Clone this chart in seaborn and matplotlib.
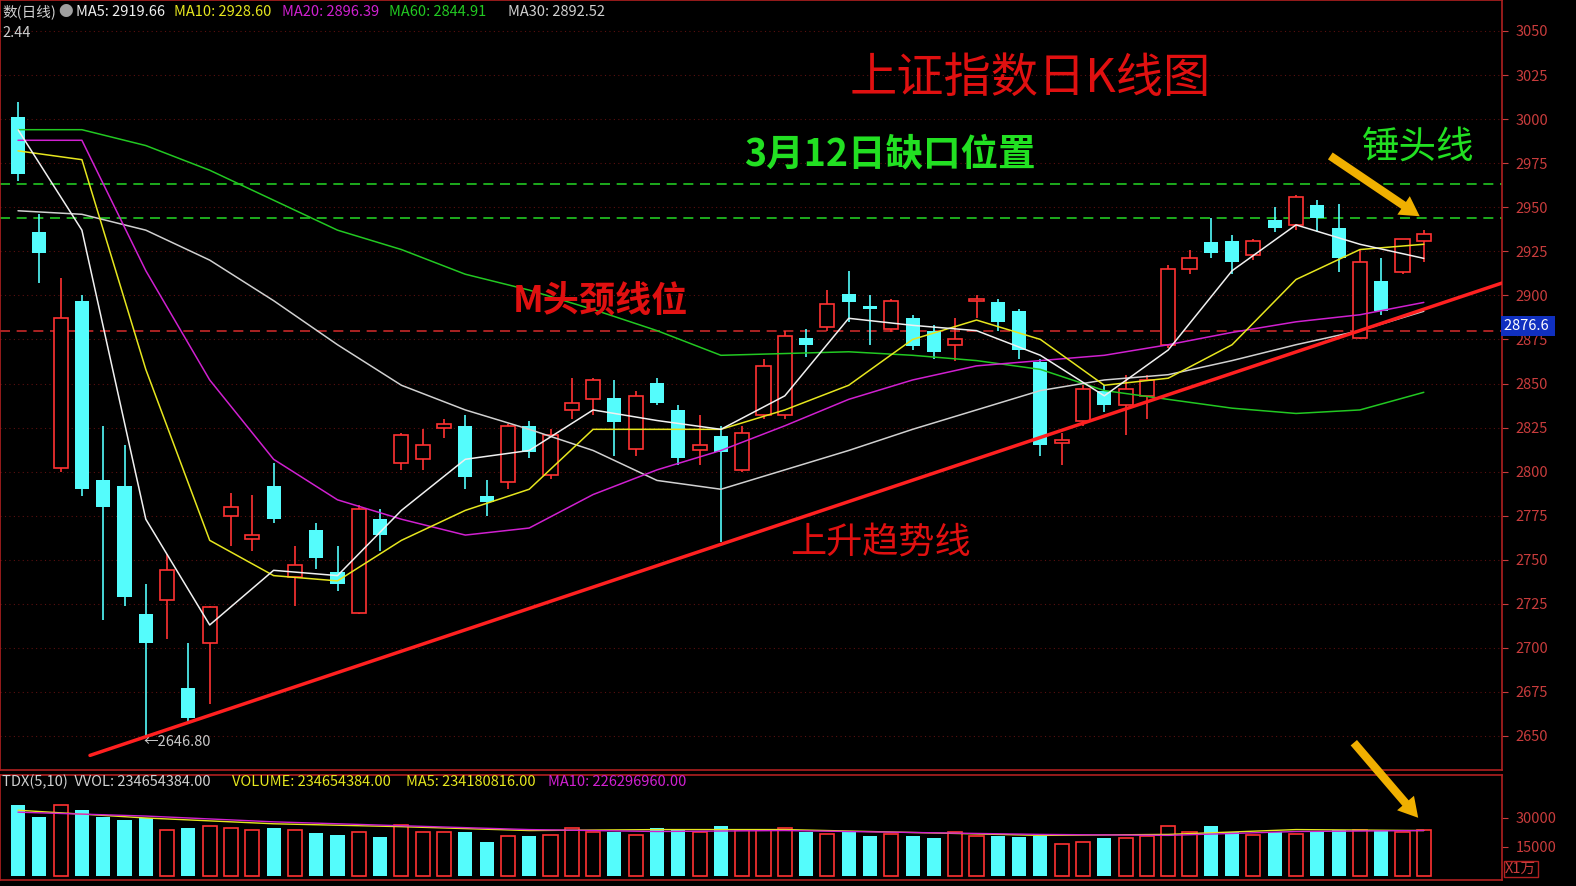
import matplotlib
matplotlib.use("Agg")
import matplotlib.pyplot as plt
import seaborn as sns
import numpy as np

sns.set_style("dark")
plt.rcParams['font.family'] = ['Noto Sans CJK SC', 'DejaVu Sans']

opens  = [3001,2936,2802,2897,2795,2792,2719,2727,2677,2703,2775,2762,2792,2740,2767,2743,2720,2773,2805,2807,2825,2826,2786,2794,2826,2798,2835,2841,2842,2813,2850,2835,2812,2820,2801,2832,2832,2876,2882,2901,2894,2881,2887,2880,2872,2897,2896,2891,2862,2816,2829,2846,2838,2843,2872,2915,2930,2931,2923,2943,2940,2951,2938,2876,2908,2913,2931]
closes = [2969,2924,2887,2790,2780,2729,2703,2744,2660,2723,2780,2764,2773,2747,2751,2736,2779,2764,2821,2815,2827,2797,2783,2826,2811,2821,2839,2852,2828,2843,2839,2808,2815,2811,2822,2860,2877,2872,2895,2896,2892,2897,2871,2868,2875,2898,2885,2869,2815,2818,2847,2838,2847,2852,2915,2921,2924,2919,2931,2938,2956,2944,2921,2919,2891,2932,2935]
highs  = [3010,2946,2910,2900,2826,2815,2736,2753,2703,2724,2788,2787,2805,2758,2771,2758,2781,2779,2822,2824,2830,2832,2795,2827,2829,2824,2853,2853,2852,2846,2853,2838,2832,2826,2826,2864,2880,2881,2903,2914,2900,2898,2889,2883,2887,2900,2898,2892,2864,2822,2849,2849,2855,2855,2917,2926,2944,2934,2932,2950,2957,2954,2952,2926,2921,2932,2937]
lows   = [2965,2907,2800,2786,2716,2724,2649,2705,2658,2668,2758,2755,2771,2724,2745,2732,2719,2755,2801,2801,2819,2790,2775,2790,2808,2796,2830,2832,2809,2809,2838,2804,2804,2760,2800,2830,2830,2865,2880,2885,2872,2879,2869,2864,2863,2887,2880,2864,2809,2804,2826,2834,2821,2830,2870,2912,2921,2912,2920,2936,2937,2936,2913,2875,2889,2912,2919]
volumes = [36700,30500,36700,34100,30500,29000,30000,23800,24800,25900,24800,23800,24800,23800,22200,21200,22700,20200,26400,22700,22700,22700,17600,20700,20700,21200,24800,22700,22700,21200,24800,23800,22700,25900,23800,23800,24800,22700,21700,22700,20700,21700,20700,19600,22700,20700,20700,20200,20700,16500,17600,19600,19600,20700,25900,22700,25900,22700,21200,22700,21700,22700,23800,23800,23800,22700,23800]

ma_idx = list(range(0, 67, 3))
ma5  = [2994,2937,2773,2713,2744,2741,2778,2807,2812,2835,2829,2824,2843,2887,2883,2880,2866,2843,2869,2914,2940,2929,2921]
ma10 = [2982,2977,2858,2761,2741,2738,2761,2778,2790,2824,2824,2824,2835,2849,2875,2886,2875,2849,2853,2872,2909,2926,2929]
ma20 = [2988,2988,2914,2852,2807,2784,2773,2764,2768,2787,2801,2812,2826,2841,2852,2860,2863,2866,2872,2879,2885,2889,2896]
ma30 = [2948,2946,2937,2920,2897,2872,2849,2835,2824,2812,2795,2790,2801,2812,2824,2835,2846,2852,2855,2863,2872,2880,2891]
ma60 = [2994,2994,2985,2971,2954,2937,2926,2912,2903,2892,2880,2866,2867,2868,2866,2863,2858,2846,2841,2836,2833,2835,2845]
price_ticks = [2650,2675,2700,2725,2750,2775,2800,2825,2850,2875,2900,2925,2950,2975,3000,3025,3050]
vol_ticks = [15000, 30000]
vma_idx = [0, 6, 12, 18, 24, 30, 36, 42, 48, 54, 60, 66]
vma5 = [34000, 30000, 27000, 25500, 23500, 24000, 24000, 22500, 21000, 21500, 24000, 23500]
vma10 = [33000, 31000, 28000, 26000, 24000, 23000, 23500, 22500, 21500, 21000, 23000, 23500]

RED = '#ff3232'; CYAN = '#54fcfc'; TICK = '#c83c3c'
W, H = 1576, 886
fig = plt.figure(figsize=(15.76, 8.86), dpi=100, facecolor='black')
ax = fig.add_axes([0, 1-770/H, 1502/W, 770/H])
axv = fig.add_axes([0, 1-880/H, 1502/W, 105/H])
for a in (ax, axv):
    a.set_facecolor('black')
    for s in a.spines.values():
        s.set_color('#b02020'); s.set_linewidth(1.2)
    a.yaxis.tick_right()
    a.tick_params(axis='y', colors=TICK, labelsize=10.5, length=4, direction='out', pad=6)
    a.tick_params(axis='x', length=0, labelbottom=False)
    a.grid(False)

n = len(opens)
xl = (-18/21.3, (1502-18)/21.3)
ax.set_xlim(*xl); axv.set_xlim(*xl)
ax.set_ylim(3050-739/1.7625, 3050+31/1.7625)
ax.set_yticks(price_ticks)
for t in price_ticks:
    ax.axhline(t, color='#5a1010', lw=0.8, ls=(0, (1, 3)), zorder=0)

bw = 0.66
for i in range(n):
    o, c, h, l = opens[i], closes[i], highs[i], lows[i]
    top, bot = max(o, c), min(o, c)
    if c >= o:
        ax.vlines(i, top, h, color=RED, lw=1.2, zorder=2)
        ax.vlines(i, l, bot, color=RED, lw=1.2, zorder=2)
        ax.bar(i, max(top-bot, 0.6), bottom=bot, width=bw, facecolor='black', edgecolor=RED, lw=1.2, zorder=3)
    else:
        ax.vlines(i, l, h, color=CYAN, lw=1.2, zorder=2)
        ax.bar(i, max(top-bot, 0.6), bottom=bot, width=bw, color=CYAN, lw=0, zorder=3)

for vals, col in [(ma60, '#22c822'), (ma30, '#d0d0d0'), (ma20, '#d020d0'), (ma10, '#e6e61e'), (ma5, '#f0f0f0')]:
    sns.lineplot(x=ma_idx, y=vals, ax=ax, color=col, lw=1.1, zorder=4)

ax.axhline(2963, color='#22c822', ls=(0, (6, 4)), lw=1.2, zorder=1)
ax.axhline(2944, color='#22c822', ls=(0, (6, 4)), lw=1.2, zorder=1)
ax.axhline(2880, color='#c82828', ls=(0, (6, 4)), lw=1.2, zorder=1)
ax.plot([3.38, xl[1]], [2639, 2907], color='#ff2020', lw=2.5, zorder=5)

ax.text((1030-18)/21.3, 3023, '上证指数日K线图', color='#e01010', fontsize=34, ha='center', va='center', zorder=6)
ax.text((890-18)/21.3, 2980, '3月12日缺口位置', color='#22e022', fontsize=27, ha='center', va='center', weight='bold', zorder=6)
ax.text((1418-18)/21.3, 2984, '锤头线', color='#22e022', fontsize=27, ha='center', va='center', zorder=6)
ax.text((600-18)/21.3, 2897, 'M头颈线位', color='#e01010', fontsize=26, ha='center', va='center', weight='bold', zorder=6)
ax.text((880-18)/21.3, 2760, '上升趋势线', color='#e01010', fontsize=26, ha='center', va='center', zorder=6)
arrow = dict(arrowstyle='simple,head_width=1.6,head_length=1.4,tail_width=0.6', color='#f0b000', lw=0)
ax.annotate('', xy=((1422-18)/21.3, 2944), xytext=((1328-18)/21.3, 2980), arrowprops=arrow, zorder=7)
ax.text((143-18)/21.3, 2646.8, '←2646.80', color='#c8c8c8', fontsize=10.5, va='center', zorder=6)
fig.text(1504/W, 1-326/H, '2876.6 ', color='white', fontsize=10.5, va='center', ha='left',
         bbox=dict(facecolor='#1030c0', edgecolor='none', pad=2))
fig.text(2/W, 1-12/H, '数(日线)', color='#d0d0d0', fontsize=10.5, va='center')
fig.text(2/W, 1-33/H, '2.44', color='#d0d0d0', fontsize=10.5, va='center')
items = [(58, '●', '#a0a0a0'), (76, 'MA5: 2919.66', '#f0f0f0'), (174, 'MA10: 2928.60', '#e6e61e'),
         (282, 'MA20: 2896.39', '#d020d0'), (389, 'MA60: 2844.91', '#22c822'), (508, 'MA30: 2892.52', '#d0d0d0')]
for px, t, c in items:
    fig.text(px/W, 1-12/H, t, color=c, fontsize=10.5, va='center')

axv.set_ylim(-4*517, 101*517)
axv.set_yticks(vol_ticks)
for i in range(n):
    if closes[i] < opens[i]:
        axv.bar(i, volumes[i], width=bw, color=CYAN, lw=0)
    else:
        axv.bar(i, volumes[i], width=bw, facecolor='black', edgecolor=RED, lw=1.2)
sns.lineplot(x=vma_idx, y=vma5, ax=axv, color='#e6e61e', lw=1)
sns.lineplot(x=vma_idx, y=vma10, ax=axv, color='#d020d0', lw=1)
axv.annotate('', xy=((1420-18)/21.3, 29000), xytext=((1352-18)/21.3, 70000), arrowprops=arrow)
vitems = [(2, 'TDX(5,10)  VVOL: 234654384.00', '#d0d0d0'), (232, 'VOLUME: 234654384.00', '#e6e61e'),
          (406, 'MA5: 234180816.00', '#e6e61e'), (548, 'MA10: 226296960.00', '#d020d0')]
for px, t, c in vitems:
    fig.text(px/W, 1-782/H, t, color=c, fontsize=10.5, va='center')
fig.text(1505/W, 1-869/H, 'X1万', color=TICK, fontsize=10.5, va='center',
         bbox=dict(facecolor='black', edgecolor='#b02020', pad=1))

fig.savefig('out.png', dpi=100, facecolor='black')
